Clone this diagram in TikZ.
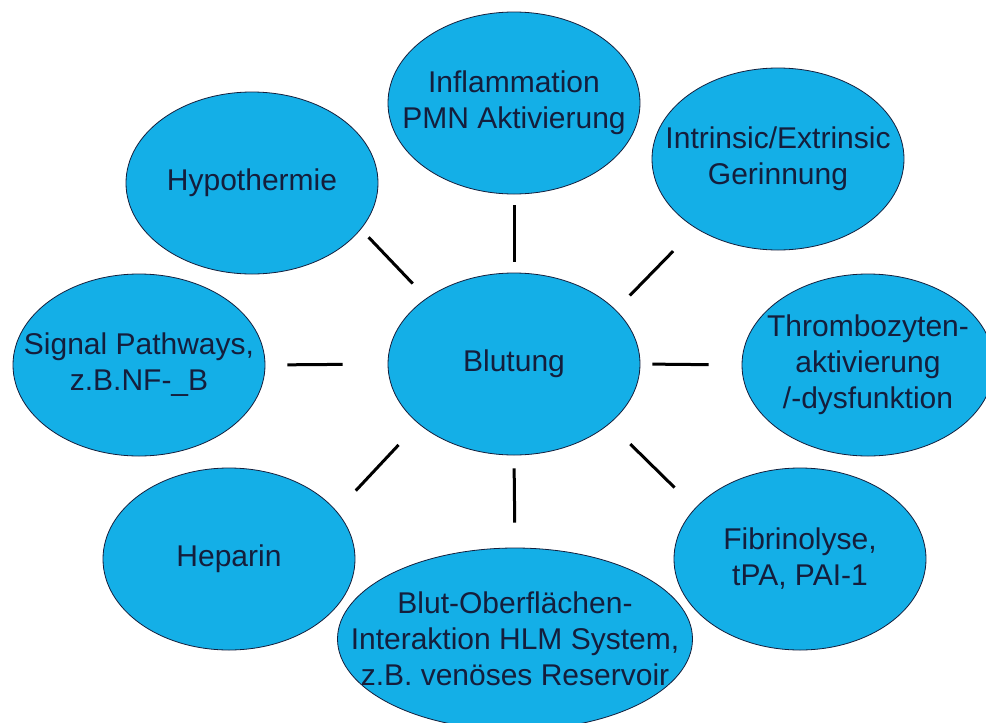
\documentclass[tikz,border=0pt]{standalone}
\usepackage{fontspec}
\setmainfont{Liberation Sans}
\usepackage{tikz}
\usetikzlibrary{shapes.geometric}

\definecolor{bubblefill}{RGB}{20,175,231}
\definecolor{bubbletext}{RGB}{20,30,60}

\begin{document}
\begin{tikzpicture}[x=1pt,y=-1pt,
    bubble/.style={ellipse,draw=bubbletext,line width=0.8pt,fill=bubblefill,
        inner sep=0pt,minimum width=252pt,minimum height=182pt,
        label={[bubbletxt]center:#1}},
    bubbletxt/.style={text=bubbletext,align=center,inner sep=0pt,
        font=\fontsize{30}{36}\selectfont},
    link/.style={line width=3pt}]
        % Picture frame
        \clip (0,0) rectangle (986,723);
        \fill[white] (0,0) rectangle (986,723);
        % Draw the bubbles
        \node[bubble={Blutung}] (blut) at (514,364) {};
        \node[bubble={Hypothermie}] (hypo) at (252,183) {};
        \node[bubble={Inflammation\\PMN Aktivierung}] (infl) at (514,103) {};
        \node[bubble={Intrinsic/Extrinsic\\Gerinnung}] (intr) at (778,159) {};
        \node[bubble={Signal Pathways,\\z.B.NF-\_B}] (signal) at (139,365) {};
        \node[bubble={Thrombozyten-\\aktivierung\\/-dysfunktion}] (thrombo) at (868,365) {};
        \node[bubble={Heparin}] (heparin) at (229,559) {};
        \node[bubble={Blut-Oberflächen-\\Interaktion HLM System,\\z.B. venöses Reservoir},minimum width=355pt] (oberfl) at (515,639) {};
        \node[bubble={Fibrinolyse,\\tPA, PAI-1}] (fibrin) at (800,559) {};
        % Connect them to the centre
        \draw[link,shorten <=20pt,shorten >=11pt] (blut.143.6) -- (hypo.-23.5);
        \draw[link,shorten <=11pt,shorten >=11pt] (blut.north) -- (infl.south);
        \draw[link,shorten <=20pt,shorten >=32pt] (blut.28.8) -- (intr.220.8);
        \draw[link,shorten <=45pt,shorten >=22pt] (blut.west) -- (signal.east);
        \draw[link,shorten <=12pt,shorten >=33pt] (blut.east) -- (thrombo.west);
        \draw[link,shorten <=29pt,shorten >=28pt] (blut.212.9) -- (heparin.24.8);
        \draw[link,shorten <=13pt,shorten >=25pt] (blut.south) -- (oberfl.north);
        \draw[link,shorten <=29pt,shorten >=29pt] (blut.-32.8) -- (fibrin.154.7);
    \end{tikzpicture}
\end{document}
